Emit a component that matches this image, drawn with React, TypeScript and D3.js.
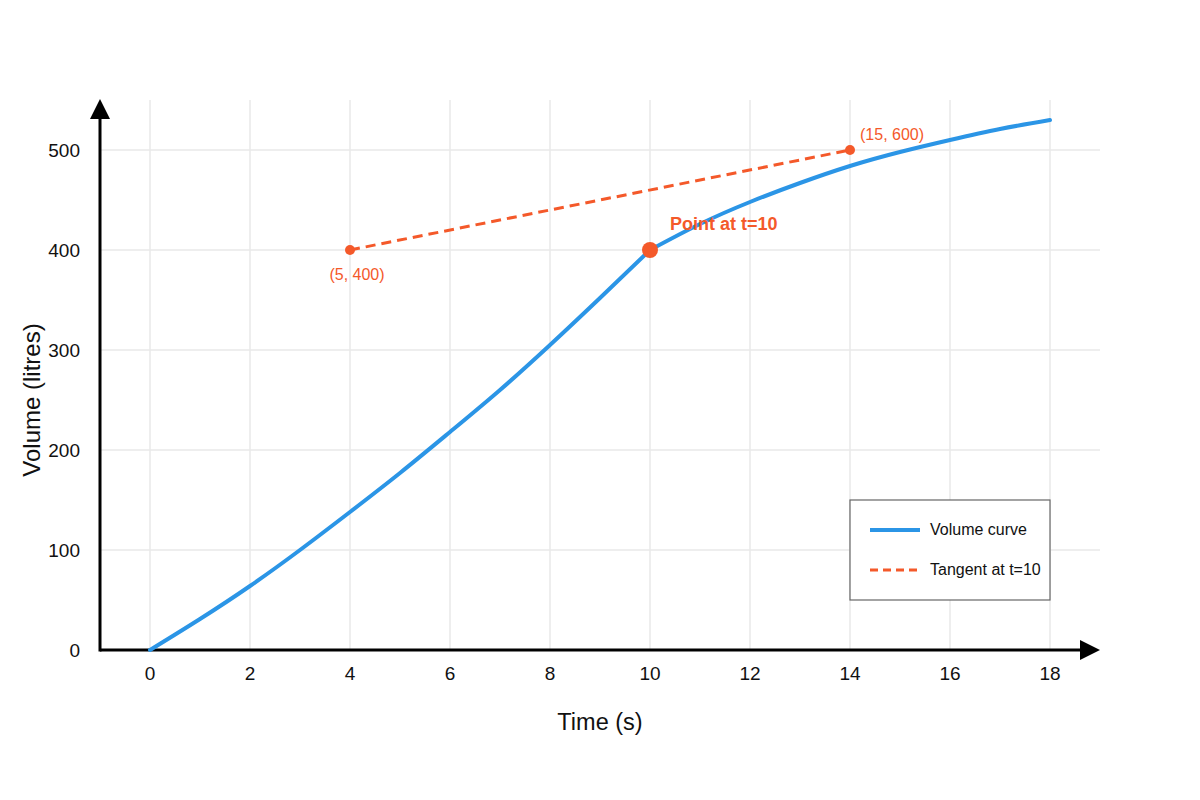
import React, { useEffect, useRef } from "react"
import * as d3 from "d3"

// volume curve (t in s, V in litres)
const riseTimes = [0, 1, 2, 3, 4, 5, 6, 7, 8, 9, 10]
const riseVolumes = [0, 31, 64, 100, 138, 177, 218, 260, 305, 352, 400]
const fallTimes = [10, 11, 12, 13, 14, 15, 16, 17, 18]
const fallVolumes = [400, 426, 448, 467, 484, 498, 510, 521, 530]

// tangent line through the point at t=10
const tangentTimes = [4, 14]
const tangentVolumes = [400, 500]
const tangentLabels = ["(5, 400)", "(15, 600)"]

const xTicks = [0, 2, 4, 6, 8, 10, 12, 14, 16, 18]
const yTicks = [0, 100, 200, 300, 400, 500]

const legendItems = ["Volume curve", "Tangent at t=10"]

const BLUE = "#2b95e6"
const ORANGE = "#f4592a"
const FONT = "'Liberation Sans', Arial, sans-serif"

const App: React.FC = () => {
  const svgRef = useRef<SVGSVGElement | null>(null)

  useEffect(() => {
    if (!svgRef.current) return
    const svg = d3.select(svgRef.current)
    svg.selectAll("*").remove()

    const x = d3.scaleLinear().domain([-1, 19]).range([100, 1100])
    const y = d3.scaleLinear().domain([0, 550]).range([650, 100])

    // grid
    svg
      .append("g")
      .selectAll("line")
      .data(xTicks)
      .join("line")
      .attr("x1", (d) => x(d))
      .attr("x2", (d) => x(d))
      .attr("y1", y(0))
      .attr("y2", y(550))
      .attr("stroke", "#e8e8e8")
      .attr("stroke-width", 1.5)

    svg
      .append("g")
      .selectAll("line")
      .data(yTicks.filter((d) => d > 0))
      .join("line")
      .attr("x1", x(-1))
      .attr("x2", x(19))
      .attr("y1", (d) => y(d))
      .attr("y2", (d) => y(d))
      .attr("stroke", "#e8e8e8")
      .attr("stroke-width", 1.5)

    // axes with arrow heads
    svg
      .append("line")
      .attr("x1", x(-1))
      .attr("x2", x(19) - 10)
      .attr("y1", y(0))
      .attr("y2", y(0))
      .attr("stroke", "#000")
      .attr("stroke-width", 3)
    svg
      .append("path")
      .attr("d", `M${x(19)},${y(0)} L${x(19) - 20},${y(0) - 10} L${x(19) - 20},${y(0) + 10} Z`)
      .attr("fill", "#000")

    svg
      .append("line")
      .attr("x1", x(-1))
      .attr("x2", x(-1))
      .attr("y1", y(0) + 1.5)
      .attr("y2", y(550) + 10)
      .attr("stroke", "#000")
      .attr("stroke-width", 3)
    svg
      .append("path")
      .attr("d", `M${x(-1)},${y(550) - 1} L${x(-1) - 10},${y(550) + 19} L${x(-1) + 10},${y(550) + 19} Z`)
      .attr("fill", "#000")

    // tick labels
    svg
      .append("g")
      .selectAll("text")
      .data(xTicks)
      .join("text")
      .attr("x", (d) => x(d))
      .attr("y", y(0) + 30)
      .attr("text-anchor", "middle")
      .attr("font-family", FONT)
      .attr("font-size", 19)
      .attr("fill", "#111")
      .text((d) => d)

    svg
      .append("g")
      .selectAll("text")
      .data(yTicks)
      .join("text")
      .attr("x", 80)
      .attr("y", (d) => y(d) + 7)
      .attr("text-anchor", "end")
      .attr("font-family", FONT)
      .attr("font-size", 19)
      .attr("fill", "#111")
      .text((d) => d)

    // axis titles
    svg
      .append("text")
      .attr("x", 600)
      .attr("y", 730)
      .attr("text-anchor", "middle")
      .attr("font-family", FONT)
      .attr("font-size", 23.5)
      .attr("fill", "#111")
      .text("Time (s)")

    svg
      .append("text")
      .attr("transform", `translate(40, ${y(250)}) rotate(-90)`)
      .attr("text-anchor", "middle")
      .attr("font-family", FONT)
      .attr("font-size", 24)
      .attr("fill", "#111")
      .text("Volume (litres)")

    // volume curve (two pieces, kink at t=10)
    const line = d3
      .line<[number, number]>()
      .x((d) => x(d[0]))
      .y((d) => y(d[1]))
      .curve(d3.curveNatural)

    const pieces: [number, number][][] = [
      riseTimes.map((t, i) => [t, riseVolumes[i]]),
      fallTimes.map((t, i) => [t, fallVolumes[i]]),
    ]
    pieces.forEach((p) => {
      svg
        .append("path")
        .datum(p)
        .attr("d", line)
        .attr("fill", "none")
        .attr("stroke", BLUE)
        .attr("stroke-width", 4)
        .attr("stroke-linecap", "round")
    })

    // tangent
    const tangent: [number, number][] = tangentTimes.map((t, i) => [t, tangentVolumes[i]])
    svg
      .append("path")
      .datum(tangent)
      .attr("d", d3.line<[number, number]>().x((d) => x(d[0])).y((d) => y(d[1])))
      .attr("fill", "none")
      .attr("stroke", ORANGE)
      .attr("stroke-width", 3)
      .attr("stroke-dasharray", "10,6")

    svg
      .append("g")
      .selectAll("circle")
      .data(tangent)
      .join("circle")
      .attr("cx", (d) => x(d[0]))
      .attr("cy", (d) => y(d[1]))
      .attr("r", 5)
      .attr("fill", ORANGE)

    svg
      .append("text")
      .attr("x", x(tangent[0][0]) + 7)
      .attr("y", y(tangent[0][1]) + 30)
      .attr("text-anchor", "middle")
      .attr("font-family", FONT)
      .attr("font-size", 16)
      .attr("fill", ORANGE)
      .text(tangentLabels[0])

    svg
      .append("text")
      .attr("x", x(tangent[1][0]) + 10)
      .attr("y", y(tangent[1][1]) - 10)
      .attr("font-family", FONT)
      .attr("font-size", 16)
      .attr("fill", ORANGE)
      .text(tangentLabels[1])

    // point at t=10
    svg
      .append("circle")
      .attr("cx", x(10))
      .attr("cy", y(400))
      .attr("r", 8)
      .attr("fill", ORANGE)

    svg
      .append("text")
      .attr("x", x(10) + 20)
      .attr("y", y(400) - 20)
      .attr("font-family", FONT)
      .attr("font-size", 18)
      .attr("font-weight", "bold")
      .attr("fill", ORANGE)
      .text("Point at t=10")

    // legend
    const legend = svg.append("g").attr("transform", "translate(850, 500)")
    legend
      .append("rect")
      .attr("width", 200)
      .attr("height", 100)
      .attr("fill", "#fff")
      .attr("stroke", "#666")
      .attr("stroke-width", 1.2)

    legendItems.forEach((label, i) => {
      const row = legend.append("g").attr("transform", `translate(0, ${30 + i * 40})`)
      row
        .append("line")
        .attr("x1", 20)
        .attr("x2", 70)
        .attr("stroke", i === 0 ? BLUE : ORANGE)
        .attr("stroke-width", i === 0 ? 4 : 3)
        .attr("stroke-dasharray", i === 0 ? null : "8,5")
      row
        .append("text")
        .attr("x", 80)
        .attr("y", 5)
        .attr("font-family", FONT)
        .attr("font-size", 16)
        .attr("fill", "#111")
        .text(label)
    })
  }, [])

  return (
    <div style={{ width: 1200, height: 800, margin: -8, background: "#fff" }}>
      <svg ref={svgRef} width={1200} height={800}></svg>
    </div>
  )
}

export default App
